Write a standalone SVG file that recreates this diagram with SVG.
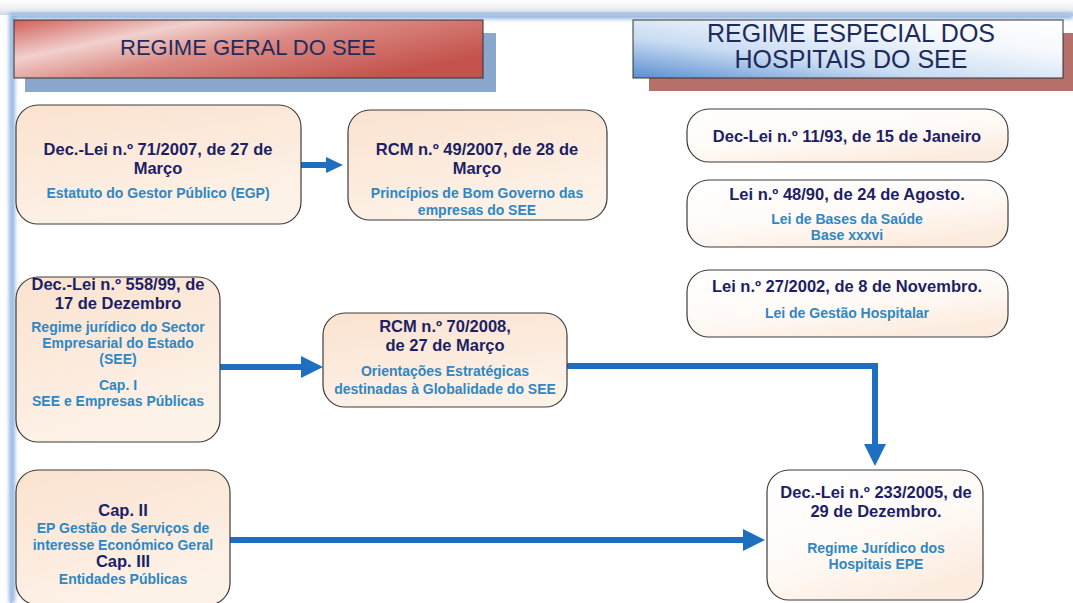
<svg xmlns="http://www.w3.org/2000/svg" width="1073" height="603" viewBox="0 0 1073 603">
<defs>
<linearGradient id="gTop" x1="0" y1="0" x2="0" y2="1">
<stop offset="0" stop-color="#ffffff"/><stop offset="0.7" stop-color="#e9ecf0"/><stop offset="1" stop-color="#c9d6e6"/>
</linearGradient>
<linearGradient id="gRed" x1="0" y1="0" x2="1" y2="0.6">
<stop offset="0" stop-color="#d25f58"/><stop offset="0.3" stop-color="#f1d0cd"/><stop offset="0.55" stop-color="#dc8c86"/><stop offset="1" stop-color="#c4534d"/>
</linearGradient>
<linearGradient id="gBlue" x1="0" y1="1" x2="1" y2="0">
<stop offset="0" stop-color="#5a8ed2"/><stop offset="0.35" stop-color="#c9dcf2"/><stop offset="0.7" stop-color="#f4f8fd"/><stop offset="1" stop-color="#ffffff"/>
</linearGradient>
<linearGradient id="gPeach" x1="0" y1="0" x2="0.4" y2="1">
<stop offset="0" stop-color="#fbe2cf"/><stop offset="1" stop-color="#fdf2e8"/>
</linearGradient>
<linearGradient id="gLight" x1="0" y1="0" x2="0.6" y2="1">
<stop offset="0" stop-color="#ffffff"/><stop offset="0.6" stop-color="#fffaf6"/><stop offset="1" stop-color="#fcecdf"/>
</linearGradient>
<filter id="blur" x="-5%" y="-5%" width="110%" height="110%"><feGaussianBlur stdDeviation="2"/></filter>
<marker id="ah" markerUnits="userSpaceOnUse" markerWidth="22" markerHeight="24" refX="2" refY="12" orient="auto">
<path d="M0,1 L22,12 L0,23 z" fill="#1f6fc0"/>
</marker>
<marker id="ahS" markerUnits="userSpaceOnUse" markerWidth="18" markerHeight="18" refX="2" refY="9" orient="auto">
<path d="M0,1 L17,9 L0,17 z" fill="#1f6fc0"/>
</marker>
</defs>
<style>
.node{stroke:#3d3d3d;stroke-width:1.2}
.t{font-family:"Liberation Sans",Arial,sans-serif;font-weight:bold;font-size:16.5px;fill:#1d1f66;text-anchor:middle}
.s{font-family:"Liberation Sans",Arial,sans-serif;font-weight:bold;font-size:14px;fill:#2f87c3;text-anchor:middle}
.h{font-family:"Liberation Sans",Arial,sans-serif;fill:#1f2b5c;text-anchor:middle}
.conn{fill:none;stroke:#1f6fc0;stroke-width:6;stroke-linecap:round}
</style>
<rect width="1073" height="603" fill="#ffffff"/>
<g id="frame">
<rect x="0" y="0" width="1073" height="15" fill="url(#gTop)"/>
<path d="M12,603 V16 H1073" fill="none" stroke="#7fa6d8" stroke-width="5" filter="url(#blur)"/>
<path d="M11,603 V15 H1073" fill="none" stroke="#a9c6ea" stroke-width="2"/>
</g>
<g id="header-geral">
<rect x="25" y="33" width="471" height="59" fill="#8aa7cd"/>
<rect x="14" y="20" width="469" height="58" fill="url(#gRed)" stroke="#333" stroke-width="1"/>
<text class="h" x="248" y="55" font-size="22">REGIME GERAL DO SEE</text>
</g>
<g id="header-especial">
<rect x="649" y="33" width="424" height="58" fill="#b5706a"/>
<rect x="633" y="20" width="430" height="58" fill="url(#gBlue)" stroke="#333" stroke-width="1"/>
<text class="h" x="851" y="42" font-size="25">REGIME ESPECIAL DOS</text>
<text class="h" x="851" y="68" font-size="25">HOSPITAIS DO SEE</text>
</g>
<g id="connectors">
<path class="conn" d="M299,165 H328" marker-end="url(#ahS)"/>
<path class="conn" d="M221,367 H303" marker-end="url(#ah)"/>
<path class="conn" d="M568,366 H875 V446" marker-end="url(#ah)"/>
<path class="conn" d="M231,540 H745" marker-end="url(#ah)"/>
</g>
<g id="n1">
<rect class="node" x="16" y="105" width="285" height="119" rx="22" fill="url(#gPeach)"/>
<text class="t" x="158" y="155">Dec.-Lei n.º 71/2007, de 27 de</text>
<text class="t" x="158" y="174">Março</text>
<text class="s" x="158" y="198">Estatuto do Gestor Público (EGP)</text>
</g>
<g id="n2">
<rect class="node" x="348" y="110" width="259" height="110" rx="22" fill="url(#gPeach)"/>
<text class="t" x="477" y="155">RCM n.º 49/2007, de 28 de</text>
<text class="t" x="477" y="174">Março</text>
<text class="s" x="477" y="198">Princípios de Bom Governo das</text>
<text class="s" x="477" y="215">empresas do SEE</text>
</g>
<g id="r1">
<rect class="node" x="687" y="109" width="321" height="53" rx="22" fill="url(#gLight)"/>
<text class="t" x="847" y="142" font-size="17">Dec-Lei n.º 11/93, de 15 de Janeiro</text>
</g>
<g id="r2">
<rect class="node" x="687" y="180" width="321" height="67" rx="22" fill="url(#gLight)"/>
<text class="t" x="847" y="200" font-size="17">Lei n.º 48/90, de 24 de Agosto.</text>
<text class="s" x="847" y="224">Lei de Bases da Saúde</text>
<text class="s" x="847" y="240">Base xxxvi</text>
</g>
<g id="r3">
<rect class="node" x="687" y="270" width="321" height="67" rx="22" fill="url(#gLight)"/>
<text class="t" x="847" y="292" font-size="17">Lei n.º 27/2002, de 8 de Novembro.</text>
<text class="s" x="847" y="318">Lei de Gestão Hospitalar</text>
</g>
<g id="n3">
<rect class="node" x="16" y="277" width="204" height="165" rx="22" fill="url(#gPeach)"/>
<text class="t" x="118" y="290" font-size="17">Dec.-Lei n.º 558/99, de</text>
<text class="t" x="118" y="309" font-size="17">17 de Dezembro</text>
<text class="s" x="118" y="332">Regime jurídico do Sector</text>
<text class="s" x="118" y="348">Empresarial do Estado</text>
<text class="s" x="118" y="364">(SEE)</text>
<text class="s" x="118" y="390">Cap. I</text>
<text class="s" x="118" y="406">SEE e Empresas Públicas</text>
</g>
<g id="n4">
<rect class="node" x="323" y="313" width="244" height="94" rx="22" fill="url(#gPeach)"/>
<text class="t" x="445" y="332">RCM n.º 70/2008,</text>
<text class="t" x="445" y="351">de 27 de Março</text>
<text class="s" x="445" y="376" font-size="14.5">Orientações Estratégicas</text>
<text class="s" x="445" y="394" font-size="14.5">destinadas à Globalidade do SEE</text>
</g>
<g id="n5">
<rect class="node" x="767" y="470" width="216" height="130" rx="22" fill="url(#gLight)"/>
<text class="t" x="876" y="498">Dec.-Lei n.º 233/2005, de</text>
<text class="t" x="876" y="517">29 de Dezembro.</text>
<text class="s" x="876" y="553">Regime Jurídico dos</text>
<text class="s" x="876" y="569">Hospitais EPE</text>
</g>
<g id="n6">
<rect class="node" x="16" y="470" width="214" height="135" rx="22" fill="url(#gPeach)"/>
<text class="t" x="123" y="516">Cap. II</text>
<text class="s" x="123" y="533">EP Gestão de Serviços de</text>
<text class="s" x="123" y="550">interesse Económico Geral</text>
<text class="t" x="123" y="567">Cap. III</text>
<text class="s" x="123" y="584">Entidades Públicas</text>
</g>
</svg>
